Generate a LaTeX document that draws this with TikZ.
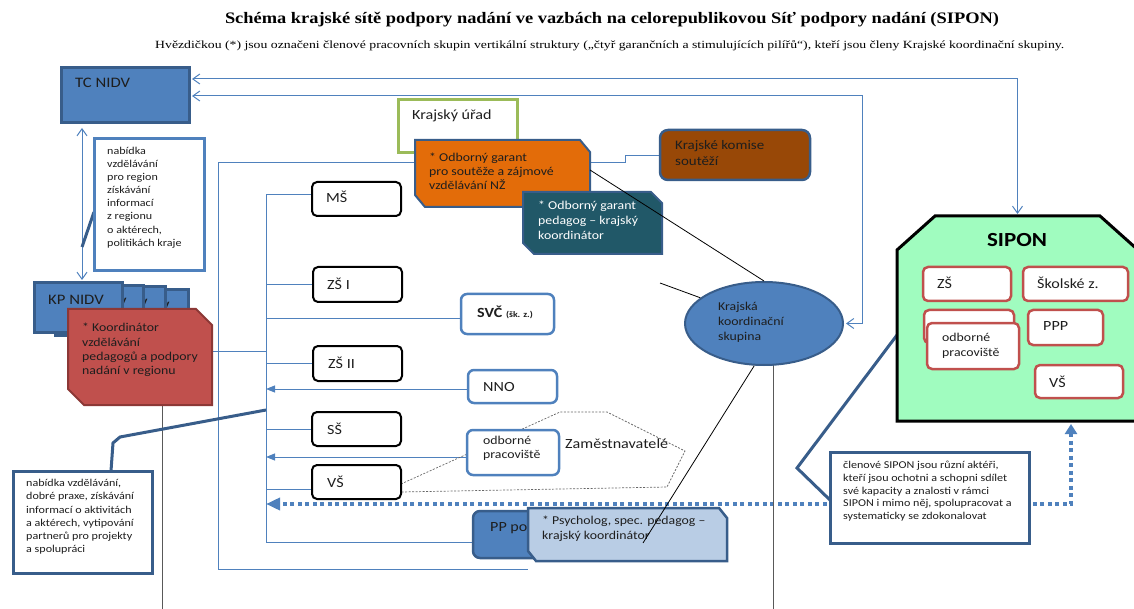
\documentclass[tikz,border=0pt]{standalone}
\usepackage{fontspec}
\setmainfont{Carlito}[FakeStretch=1.15]
\newfontfamily\serifT{Liberation Serif}[FakeStretch=1.15]
\newfontfamily\serifS{Liberation Serif}[FakeStretch=1.25]
\usetikzlibrary{shapes.geometric,arrows.meta}
\pgfdeclarelayer{bg}
\pgfsetlayers{bg,main}
\definecolor{blueA}{HTML}{4F81BD}
\definecolor{blueD}{HTML}{385D8A}
\definecolor{redA}{HTML}{C0504D}
\definecolor{redD}{HTML}{8C3836}
\definecolor{orangeA}{HTML}{E36C09}
\definecolor{tealA}{HTML}{215868}
\definecolor{brownA}{HTML}{984807}
\definecolor{greenB}{HTML}{9BBB59}
\definecolor{sipong}{HTML}{A0FCBF}
\definecolor{lblue}{HTML}{B9CDE5}
\definecolor{txtc}{HTML}{1E1E1E}
\newcommand\myfs[2]{\fontsize{#1}{#2}\selectfont}
% chamfered outline: node, xsep, ysep, style (corners NE and SW)
\newcommand\chamNE[4]{\path[#4] (#1.north west) -- ([xshift=-#2]#1.north east) -- ([yshift=-#3]#1.north east) -- (#1.south east) -- ([xshift=#2]#1.south west) -- ([yshift=#3]#1.south west) -- cycle;}
\tikzset{
  box/.style={anchor=north west, inner sep=0pt, outer sep=0pt},
  tx/.style={anchor=north west, inner sep=0pt, align=left, text=txtc},
  conn/.style={draw=blueA, line width=1pt},
  blk/.style={draw=black, line width=0.8pt},
  gry/.style={draw=black!65, line width=0.9pt},
  ptr/.style={draw=blueD, line width=3pt},
  sbox/.style={box, draw=black, line width=2pt, rounded corners=5pt, fill=white, minimum width=89, minimum height=34},
  bbox/.style={box, draw=blueA, line width=2.5pt, rounded corners=6pt, fill=white},
  rbox/.style={box, draw=redA, line width=2.5pt, rounded corners=5pt, fill=white},
  obarb/.tip={Straight Barb[length=7pt,width=10pt]},
  ftri/.tip={Triangle[length=9pt,width=7pt]},
  dotline/.style={draw=blueA, line width=3.5pt, dash pattern=on 4pt off 3.5pt},
}
\begin{document}
\begin{tikzpicture}[x=1pt,y=-1pt]
\useasboundingbox (0,0) rectangle (1134,609);

% titles
\node[anchor=north, inner sep=0] (title) at (612,12) {\serifT\bfseries\myfs{16}{18}Schéma krajské sítě podpory nadání ve vazbách na celorepublikovou Síť podpory nadání (SIPON)};
\node[anchor=north west, inner sep=0] (subt) at (155,40) {\serifS\myfs{11}{12}Hvězdičkou (*) jsou označeni členové pracovních skupin vertikální struktury („čtyř garančních a stimulujících pilířů“), kteří jsou členy Krajské koordinační skupiny.};

% TC NIDV
\node[box, draw=blueD, line width=3pt, fill=blueA, minimum width=128, minimum height=55] (tc) at (61,68) {};
\node[tx, font=\myfs{14.5}{16}] (tct) at (75,78) {TC NIDV};

% nabidka box
\node[box, draw=blueA, line width=3pt, fill=white, minimum width=110, minimum height=132] (nab) at (94,139) {};
\node[tx, font=\myfs{10.5}{13.1}] (nabt) at (107,147) {nabídka\\vzdělávání\\pro region\\získávání\\informací\\z regionu\\o aktérech,\\politikách kraje};

% KP NIDV stack
\node[box, draw=blueD, line width=3pt, fill=blueA, minimum width=88, minimum height=49] (kp4) at (100,290) {};
\node[tx, font=\myfs{14.5}{16}] (kpt4) at (160,302) {V};
\node[box, draw=blueD, line width=3pt, fill=blueA, minimum width=88, minimum height=49] (kp3) at (77,287) {};
\node[tx, font=\myfs{14.5}{16}] (kpt3) at (138,299) {V};
\node[box, draw=blueD, line width=3pt, fill=blueA, minimum width=88, minimum height=49] (kp2) at (55,286) {};
\node[tx, font=\myfs{14.5}{16}] (kpt2) at (117,298) {V};
\node[box, draw=blueD, line width=3pt, fill=blueA, minimum width=88, minimum height=49] (kp1) at (34,283) {};
\node[tx, font=\myfs{14.5}{16}] (kpt1) at (48,295) {KP NIDV};

% Koordinator
\node[box, minimum width=144, minimum height=96] (red) at (68,309) {};
\chamNE{red}{16pt}{16pt}{draw=redD, line width=2pt, fill=redA}
\node[tx, font=\myfs{12}{14.4}] (redt) at (82,323) {* Koordinátor\\vzdělávání\\pedagogů a podpory\\nadání v regionu};

% Krajsky urad
\node[box, draw=greenB, line width=3pt, fill=white, minimum width=119, minimum height=53] (ku) at (398,100) {};
\node[tx, font=\myfs{14}{16}] (kut) at (412,110) {Krajský úřad};

% orange
\node[box, minimum width=175, minimum height=67] (ora) at (415,140) {};
\chamNE{ora}{10pt}{12pt}{draw=blueD, line width=2pt, fill=orangeA}
\node[tx, font=\myfs{12}{14}] (orat) at (429,153) {* Odborný garant\\pro soutěže a zájmové\\vzdělávání NŽ};

% teal
\node[box, minimum width=139, minimum height=62] (tea) at (523,192) {};
\chamNE{tea}{11pt}{11pt}{draw=blueD, line width=2pt, fill=tealA}
\node[tx, text=white, font=\myfs{12}{15}] (teat) at (538,201) {* Odborný garant\\pedagog – krajský\\koordinátor};

% komise
\node[box, rounded corners=8pt, draw=blueD, line width=2.5pt, fill=brownA, minimum width=150, minimum height=50] (kom) at (660,130) {};
\node[tx, font=\myfs{13}{16}] (komt) at (675,140) {Krajské komise\\soutěží};

% schools
\node[sbox] (ms) at (312,182) {};
\node[tx, font=\myfs{14}{16}] (mst) at (326,191) {MŠ};
\node[sbox, minimum height=35] (zs1) at (313,267) {};
\node[tx, font=\myfs{14}{16}] (zs1t) at (327,278) {ZŠ I};
\node[sbox, minimum height=35] (zs2) at (313,346) {};
\node[tx, font=\myfs{14}{16}] (zs2t) at (328,357) {ZŠ II};
\node[sbox] (ss) at (312,412) {};
\node[tx, font=\myfs{14}{16}] (sst) at (327,423) {SŠ};
\node[sbox] (vs) at (312,465) {};
\node[tx, font=\myfs{14}{16}] (vst) at (327,476) {VŠ};

% blue boxes
\node[bbox, minimum width=93, minimum height=40] (svc) at (461,294) {};
\node[tx, font=\myfs{14}{16}] (svct) at (477,306) {\textbf{SVČ} {\myfs{8.5}{10}\textbf{(šk. z.)}}};
\node[bbox, minimum width=89, minimum height=33] (nno) at (468,370) {};
\node[tx, font=\myfs{14}{16}] (nnot) at (483,382) {NNO};
\node[bbox, minimum width=92, minimum height=45] (odb) at (467,430) {};
\node[tx, font=\myfs{12}{14.3}] (odbt) at (483,436) {odborné\\pracoviště};
\node[tx, font=\myfs{14}{16}] (zam) at (565,439) {Zaměstnavatelé};

% PP + psycholog
\node[box, rounded corners=7pt, draw=blueD, line width=2.5pt, fill=blueA, minimum width=90, minimum height=47] (pp) at (473,511) {};
\node[tx, font=\myfs{14}{16}] (ppt) at (490,522) {PP po};
\node[box, minimum width=199, minimum height=53] (psy) at (528,508) {};
\chamNE{psy}{8pt}{10pt}{draw=blueD, line width=2.5pt, fill=lblue}
\node[tx, font=\myfs{12}{15}] (psyt) at (542,516) {* Psycholog, spec. pedagog –\\krajský koordinátor};

% ellipse
\node[ellipse, draw=blueD, line width=2pt, fill=blueA, minimum width=158, minimum height=83, inner sep=0] (kks) at (764,323.5) {};
\node[tx, font=\myfs{12}{15}] (kkst) at (718,302) {Krajská\\koordinační\\skupina};

% SIPON
\node[box, minimum width=241, minimum height=205] (sipon) at (897,216) {};
\path[draw=black, line width=3pt, fill=sipong] (sipon.south west) -- ([yshift=-34pt]sipon.north west) -- ([xshift=38pt]sipon.north west) -- ([xshift=-38pt]sipon.north east) -- ([yshift=-34pt]sipon.north east) -- (sipon.south east) -- cycle;
\node[anchor=north, inner sep=0, font=\bfseries\myfs{20}{22}, text=black] (sipt) at (1017,233) {SIPON};
\node[rbox, minimum width=88, minimum height=34] (szs) at (923,267) {};
\node[tx, font=\myfs{14}{16}] (szst) at (937,277) {ZŠ};
\node[rbox, minimum width=105, minimum height=34] (ssk) at (1023,267) {};
\node[tx, font=\myfs{14}{16}] (sskt) at (1037,277) {Školské z.};
\node[rbox, minimum width=90, minimum height=33] (shid) at (924,310) {};
\node[rbox, minimum width=92, minimum height=46] (sodb) at (927,323) {};
\node[tx, font=\myfs{12}{15}] (sodbt) at (942,333) {odborné\\pracoviště};
\node[rbox, minimum width=75, minimum height=35] (sppp) at (1028,310) {};
\node[tx, font=\myfs{14}{16}] (spppt) at (1043,321) {PPP};
\node[rbox, minimum width=88, minimum height=33] (svs) at (1035,365) {};
\node[tx, font=\myfs{14}{16}] (svst) at (1049,376) {VŠ};

% callouts
\node[box, draw=blueD, line width=3pt, fill=white, minimum width=139, minimum height=102] (cl) at (13,471) {};
\node[tx, font=\myfs{10.5}{13.3}] (clt) at (26,479) {nabídka vzdělávání,\\dobré praxe, získávání\\informací o aktivitách\\a aktérech, vytipování\\partnerů pro projekty\\a spolupráci};
\node[box, draw=blueD, line width=3pt, fill=white, minimum width=199, minimum height=91] (cs) at (830,452) {};
\node[tx, font=\myfs{10.5}{12.7}] (cst) at (843,461) {členové SIPON jsou různí aktéři,\\kteří jsou ochotni a schopni sdílet\\své kapacity a znalosti v rámci\\SIPON i mimo něj, spolupracovat a\\systematicky se zdokonalovat};

% free coordinates
\coordinate (nabp) at (82,247);
\coordinate (fr1) at (528,569);
\coordinate (g1) at (162,609);
\coordinate (g2) at (773,609);
\coordinate (cp) at (266,410);
\coordinate (f1) at (660,283);
\coordinate (f2) at (643,543);

\begin{pgfonlayer}{bg}
\draw[conn, {obarb}-{obarb}, shorten <=3pt, shorten >=2pt] (tc.east |- 0,79) -| (sipon.north);
\draw[conn, {obarb}-{obarb}, shorten <=3pt, shorten >=2pt] (tc.east |- 0,96) -- (862,96) |- (kks.east);
\draw[conn, {obarb}-{obarb}, shorten <=5pt, shorten >=3pt] (82,0 |- tc.south) -- (82,0 |- kp1.north);
\draw[ptr] (nab.west |- 0,212) -- (nabp);
% frames
\draw[conn] (ora.west |- 0,163) -- (218,163) -- (218,569) -- (fr1);
\draw[conn] (red.east |- 0,351) -- (266,351);
\draw[conn] (ms.west |- 0,195) -- (266,195) -- (266,542) -- (pp.west |- 0,542);
\draw[conn] (266,0 |- zs1.west) -- (zs1.west);
\draw[conn] (266,318) -- (svc.west |- 0,318);
\draw[conn] (266,0 |- zs2.west) -- (zs2.west);
\draw[conn, -{ftri}] (nno.west |- 0,389) -- (266,389);
\draw[conn] (266,0 |- ss.west) -- (ss.west);
\draw[conn, -{ftri}] (odb.west |- 0,457) -- (266,457);
\draw[conn] (266,489) -- (vs.west |- 0,489);
\draw[conn] (ora.east |- 0,163) -- (625,163) -- (625,156) -- (kom.west |- 0,156);
% dotted
\draw[dotline, {Triangle[length=10pt,width=12pt]}-{Triangle[length=14pt,width=12pt]}, shorten <=3pt] (sipon.south -| 1071,0) -- (1071,504) -- (266,504);
% gray
\draw[gry] (red.south -| g1) -- (g1);
\draw[gry] (773,364) -- (g2);
% pointers
\draw[ptr] (cp) -- (120,437) -- (113,443) -- (111,0 |- cl.north);
\draw[ptr] (cs.west |- 0,500) -- (797,468) -- (sipon.west |- 0,335);
% zamestnavatele
\draw[draw=black!60, line width=0.7pt, dash pattern=on 2pt off 1.5pt] (vs.east |- 0,484) -- (560,412) -- (607,412) -- (685,451) -- (667,487) -- (vs.east |- 0,492);
\end{pgfonlayer}

% black lines on top
\draw[blk] (ora.east |- 0,170) -- (kks.north);
\draw[blk] (f1) -- (kks.158);
\draw[blk] (kks.257) -- (f2);
\end{tikzpicture}
\end{document}
